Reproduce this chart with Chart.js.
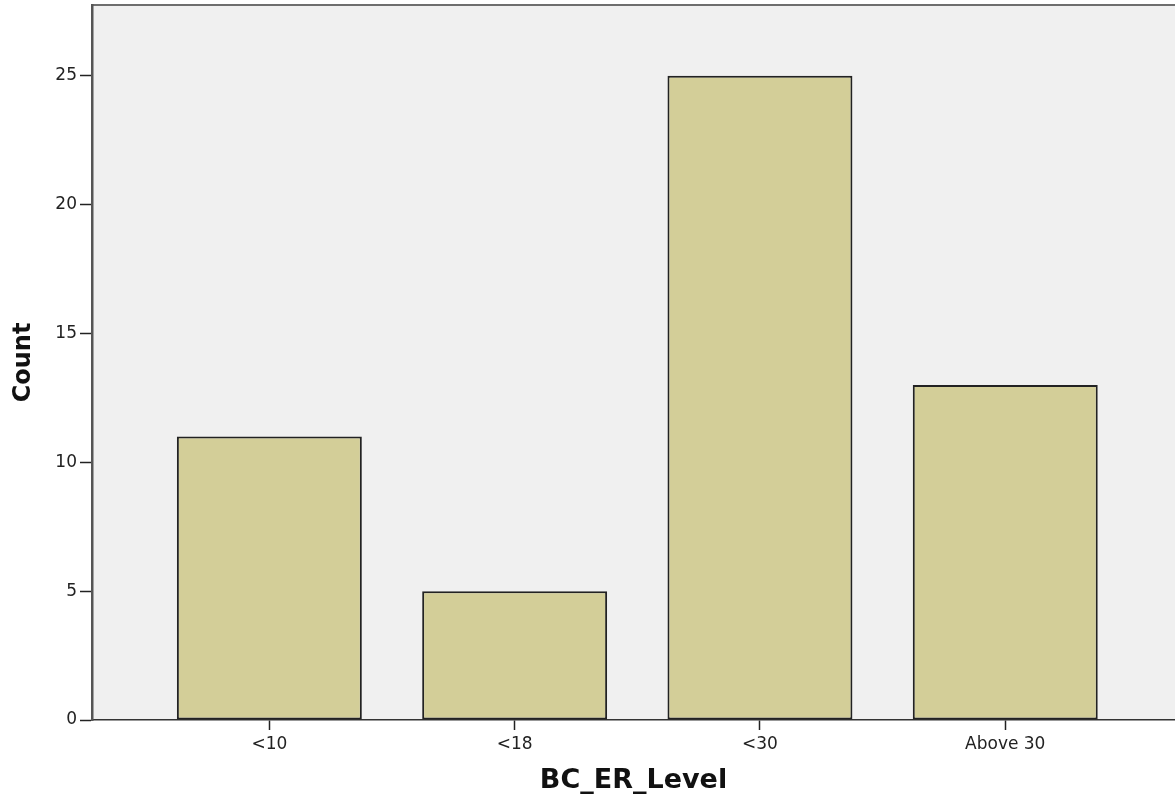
<!DOCTYPE html>
<html>
<head>
<meta charset="utf-8">
<script src="https://cdn.jsdelivr.net/npm/chart.js@4"></script>
<style>
  html, body { margin: 0; padding: 0; background: #fff; overflow: hidden; }
  #wrap { width: 1175px; height: 797px; position: relative; }
</style>
</head>
<body>
<div id="wrap"><canvas id="grafico"></canvas></div>
<script>
const categorias = ['<10', '<18', '<30', 'Above 30'];
const contagens = [11, 5, 25, 13];
const ticksY = [0, 5, 10, 15, 20, 25];

// fundo cinza da area do grafico + borda superior
const fundoPlot = {
  id: 'fundoPlot',
  beforeDraw(chart) {
    const { ctx, chartArea: a } = chart;
    ctx.save();
    ctx.fillStyle = '#f0f0f0';
    ctx.fillRect(a.left, a.top, a.right - a.left, a.bottom - a.top);
    ctx.strokeStyle = '#6e6e6e';
    ctx.lineWidth = 2;
    ctx.beginPath();
    ctx.moveTo(a.left, a.top);
    ctx.lineTo(a.right, a.top);
    ctx.stroke();
    ctx.restore();
  }
};

const ctx = document.getElementById('grafico').getContext('2d');
new Chart(ctx, {
  type: 'bar',
  data: {
    datasets: [{
      data: contagens.map((v, i) => ({ x: i, y: v })),
      backgroundColor: '#d3ce98',
      borderColor: '#222',
      borderWidth: 2,
      borderSkipped: false,
      categoryPercentage: 1,
      barPercentage: 0.754
    }]
  },
  options: {
    responsive: true,
    maintainAspectRatio: false,
    animation: false,
    layout: { padding: { top: 5, left: 0, right: 0, bottom: 0 } },
    plugins: { legend: { display: false }, tooltip: { enabled: false } },
    scales: {
      x: {
        type: 'linear',
        offset: false,
        min: -0.723,
        max: 3.692,
        afterBuildTicks: (s) => { s.ticks = categorias.map((c, i) => ({ value: i })); },
        afterFit: (s) => { s.height = 77; s.paddingLeft = 0; s.paddingRight = 0; },
        ticks: {
          callback: (v) => categorias[v],
          font: { family: 'DejaVu Sans', size: 17 },
          color: '#222',
          padding: 4,
          maxRotation: 0,
          autoSkip: false
        },
        grid: { offset: false, drawOnChartArea: false, tickLength: 10, tickColor: '#222', tickWidth: 1.5 },
        border: { color: '#333', width: 1.5 },
        title: {
          display: true,
          text: 'BC_ER_Level',
          font: { family: 'DejaVu Sans', size: 27, weight: 'bold' },
          color: '#111',
          padding: { top: 0, bottom: 0 }
        }
      },
      y: {
        min: 0,
        max: 27.75,
        afterBuildTicks: (s) => { s.ticks = ticksY.map(v => ({ value: v })); },
        afterFit: (s) => { s.width = 92; s.paddingTop = 0; s.paddingBottom = 0; },
        ticks: {
          font: { family: 'DejaVu Sans', size: 17 },
          color: '#222',
          padding: 3
        },
        grid: { drawOnChartArea: false, tickLength: 12, tickColor: '#222', tickWidth: 1.5 },
        border: { color: '#555', width: 2.5 },
        title: {
          display: true,
          text: 'Count',
          font: { family: 'DejaVu Sans', size: 24, weight: 'bold' },
          color: '#111',
          padding: { top: 9, bottom: 0 }
        }
      }
    }
  },
  plugins: [fundoPlot]
});
</script>
</body>
</html>
